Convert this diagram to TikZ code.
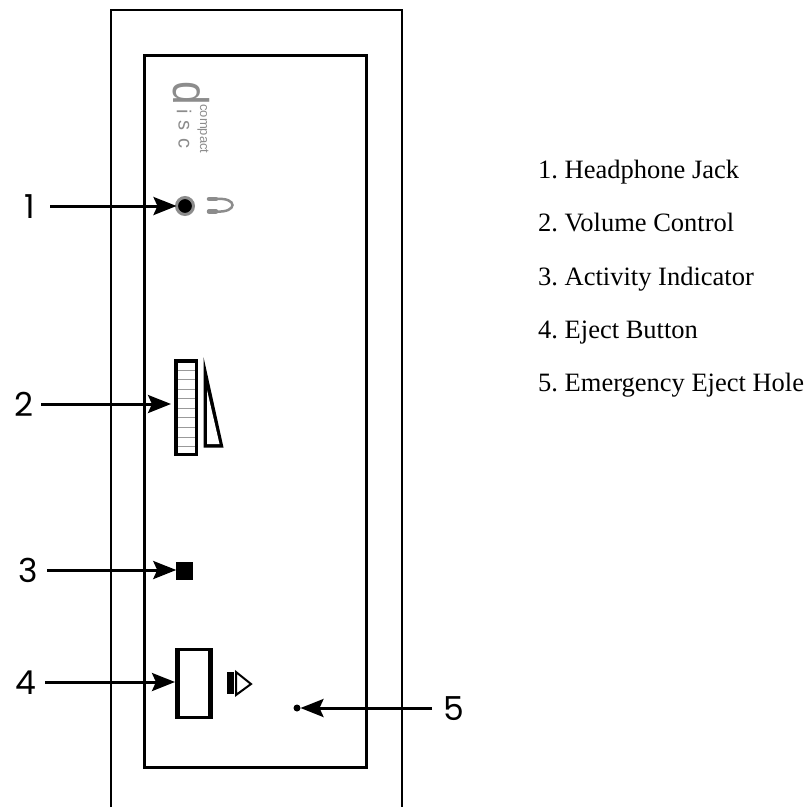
\documentclass[tikz,border=0pt]{standalone}
\usepackage{fontspec}
\setmainfont{Liberation Serif}
\newfontfamily\numfont{Poppins}
\newfontfamily\logofont{Liberation Sans}
\usetikzlibrary{arrows.meta}
\definecolor{discgray}{gray}{0.55}
\frenchspacing
\tikzset{
  frameline/.style={line width=2pt,black},
  panelline/.style={line width=3pt,black},
  numlabel/.style={font=\numfont\fontsize{33}{33}\selectfont,inner sep=0pt,outer sep=0pt,text height=24pt,text depth=0pt},
  callout/.style={line width=3pt,-{Stealth[length=23pt,width=18pt,inset=4pt]},shorten >=0pt},
  legend/.style={font=\fontsize{26.5}{28}\selectfont,anchor=base west,inner sep=0pt},
  target/.style={inner sep=0pt,outer sep=0pt},
  ticks/.style={line width=0.9pt,black!40},
  discd/.style={discgray,inner sep=0pt,rotate=-90,font=\logofont},
}
\begin{document}
\begin{tikzpicture}[x=1pt,y=-1pt]
\useasboundingbox (0,0) rectangle (811,807);
% frame
\draw[frameline] (110.5,807) -- (110.5,10) -- (402,10) -- (402,807);
\draw[panelline] (144,55) rectangle (366,767);
% logo
\node[discd] (logod) at (191,93.5) {\fontsize{50}{50}\selectfont\scalebox{0.85}[1]{d}};
\node[discd] (logoi) at (184,112) {\fontsize{20}{20}\selectfont i};
\node[discd] (logos) at (184,125) {\fontsize{20}{20}\selectfont s};
\node[discd] (logoc) at (184,143) {\fontsize{20}{20}\selectfont c};
\node[discd] (logocomp) at (203,129) {\fontsize{13}{13}\selectfont compact};
% headphone jack
\node[target,circle,draw=discgray,line width=3pt,fill=black,minimum size=17pt] (jack) at (185,206) {};
\draw[discgray,line width=2.5pt] (216,199) .. controls (238,197) and (238,213) .. (216,211.5);
\draw[discgray,line width=4.5pt,line cap=round] (209,199) -- (216,199) (209,211.5) -- (216,211.5);
% volume control
\node[target,draw=black,line width=3.5pt,minimum width=20.5pt,minimum height=93.5pt] (slider) at (186,407.5) {};
\foreach \yy in {370,379,389,398,408,417,427,437,446}
  \draw[ticks] (178,\yy) -- (194.5,\yy);
\fill[black] (203.5,357) -- (223.5,447.5) -- (203.5,447.5) -- cycle;
\fill[white] (207,390) -- (219.5,444) -- (207,444) -- cycle;
% activity indicator
\node[target,fill=black,minimum width=16.5pt,minimum height=18pt] (led) at (184.5,571) {};
% eject button
\node[target,minimum width=38pt,minimum height=71pt] (eject) at (194,683.5) {};
\fill[black] (175,648) rectangle (213,719);
\fill[white] (180,651) rectangle (208,715.5);
\fill[black] (227,672) rectangle (234,694);
\draw[black,line width=2pt,fill=white] (236,672) -- (251,684) -- (236,695) -- cycle;
% emergency hole
\node[target,circle,fill=black,minimum size=7pt] (hole) at (297,708) {};
% number labels
\node[numlabel,anchor=east] (n1) at (50,206) {\makebox[29pt][l]{\hspace{3pt}1}};
\node[numlabel,anchor=east] (n2) at (41,404) {\makebox[30pt][l]{\hspace{3pt}2}};
\node[numlabel,anchor=east] (n3) at (47,570) {\makebox[30pt][l]{\hspace{1pt}3}};
\node[numlabel,anchor=east] (n4) at (45,682) {\makebox[30pt][l]{\hspace{0pt}4}};
\node[numlabel,anchor=west] (n5) at (432,708) {\makebox[32pt][r]{5}};
% connectors
\coordinate (slidertip) at (171,404);
\draw[callout] (n1.east) -- (jack.west);
\draw[callout] (n2.east) -- (slidertip);
\draw[callout] (n3.east) -- (n3.east -| led.west);
\draw[callout] (n4.east) -- (n4.east -| eject.west);
\draw[callout] (n5.west) -- (hole.east);
% legend
\node[legend] (t1) at (538,178) {1. Headphone Jack};
\node[legend] (t2) at (538,231) {2. Volume Control};
\node[legend] (t3) at (538,285) {3. Activity Indicator};
\node[legend] (t4) at (538,338) {4. Eject Button};
\node[legend] (t5) at (538,391) {5. Emergency Eject Hole};
\end{tikzpicture}
\end{document}
